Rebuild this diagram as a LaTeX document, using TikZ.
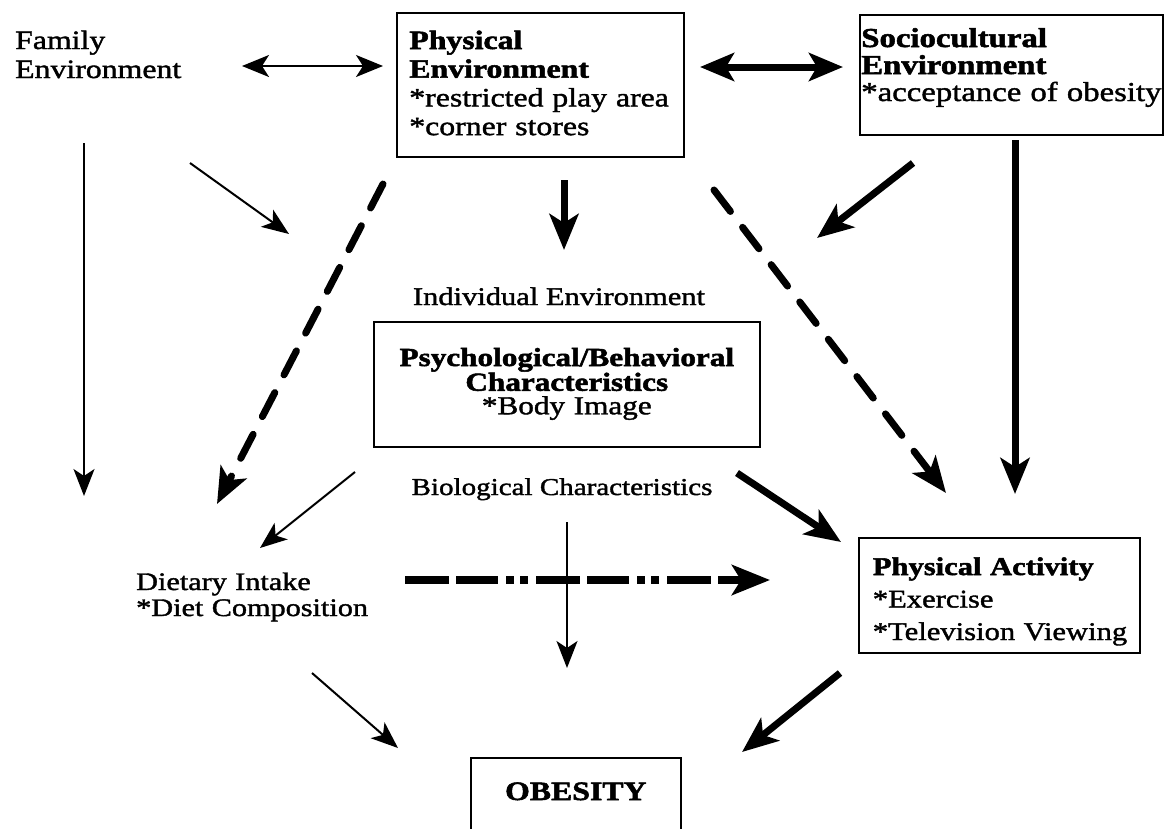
\documentclass[tikz,border=0pt]{standalone}
\usepackage{fontspec}
\setmainfont{Liberation Serif}[FakeStretch=1.2, UprightFeatures={FakeBold=1.5}, BoldFeatures={FakeBold=2}]
\usetikzlibrary{arrows.meta}
\newcommand\fsz[2]{\fontsize{#1}{#2}\selectfont}
\begin{document}
\begin{tikzpicture}[x=1pt,y=-1pt,
  box/.style={draw, line width=1.6pt, inner ysep=0pt, align=left},
  freetext/.style={inner sep=0pt, align=left},
  thinarrow/.style={line width=2pt, -{Stealth[length=27pt,width=21pt,inset=7pt]}},
  thinboth/.style={line width=2pt, {Stealth[length=27pt,width=22pt,inset=7pt]}-{Stealth[length=27pt,width=22pt,inset=7pt]}},
  thickarrow/.style={line width=7pt, -{Stealth[length=36pt,width=29pt,inset=9pt]}},
  thickboth/.style={line width=7pt, {Stealth[length=34pt,width=28pt,inset=8pt]}-{Stealth[length=34pt,width=28pt,inset=8pt]}},
  dasharrow/.style={thickarrow, dash pattern=on 27pt off 20pt, line cap=round},
  dashdotarrow/.style={line width=8pt, -{Stealth[length=38pt,width=30pt,inset=9pt]},
     dash pattern=on 44pt off 7pt on 42pt off 8pt on 8pt off 6pt on 8pt off 8pt}
]
\useasboundingbox (0,0) rectangle (1164,828);

% ---------- nodes ----------
\node[freetext, anchor=base west, text width=220pt, font=\fsz{26.5}{29}] (fam) at (15,49)
  {Family\\Environment};

\node[box, anchor=base west, text width=262pt, inner xsep=12.5pt, text height=36pt, text depth=108pt,
  font=\fsz{26.5}{28.7}] (phys) at (396,49)
  {\textbf{Physical}\\\textbf{Environment}\\\mbox{*restricted play area}\\\mbox{*corner stores}};

\node[box, anchor=base west, text width=300pt, inner xsep=1.5pt, text height=32pt, text depth=88pt,
  font=\fsz{27.3}{27}] (soc) at (859,47)
  {\textbf{Sociocultural}\\\textbf{Environment}\\\mbox{*acceptance of obesity}};

\node[freetext, anchor=base, font=\fsz{25.4}{28}] (indiv) at (559,305) {Individual Environment};

\node[box, align=center, anchor=base west, text width=386pt, inner xsep=0pt, text height=44pt, text depth=81pt,
  font=\fsz{26}{23.5}] (psych) at (373,366)
  {\textbf{\mbox{Psychological/Behavioral}}\\\textbf{Characteristics}\\\mbox{*Body Image}};

\node[freetext, anchor=base, font=\fsz{24.2}{28}] (bio) at (562,495) {Biological Characteristics};

\node[freetext, anchor=base west, text width=260pt, font=\fsz{25.2}{26}] (diet) at (136,590)
  {\mbox{Dietary Intake}\\\mbox{*Diet Composition}};

\node[box, anchor=base west, text width=253pt, inner xsep=14pt, text height=37pt, text depth=78pt,
  font=\fsz{25.5}{32.5}] (pa) at (858,575)
  {\textbf{\mbox{Physical Activity}}\\\mbox{*Exercise}\\\mbox{*Television Viewing}};

\node[box, align=center, anchor=base west, text width=210pt, inner xsep=0pt, text height=42pt, text depth=40pt,
  font=\fsz{26.5}{28}] (obes) at (470,800) {\textbf{OBESITY}};

% ---------- connector end points ----------
\coordinate (famR) at (242,66);   \coordinate (physL) at (383,66);
\coordinate (physR) at (700,67);  \coordinate (socL) at (843,67);
\coordinate (famS) at (84,143);   \coordinate (famE) at (84,496);
\coordinate (famD) at (190,163);  \coordinate (famDE) at (289,234);
\coordinate (physDL) at (383,184); \coordinate (dietT) at (217,504);
\coordinate (physS) at (564,180); \coordinate (indivN) at (564,250);
\coordinate (physDR) at (714,190); \coordinate (paT) at (946,493);
\coordinate (socD) at (913,163);  \coordinate (socDE) at (817,238);
\coordinate (socS) at (1015,140); \coordinate (paN) at (1015,494);
\coordinate (bioL) at (355,472);  \coordinate (dietN) at (260,548);
\coordinate (bioR) at (737,473);  \coordinate (paW) at (841,542);
\coordinate (dietR) at (405,580); \coordinate (paL) at (770,580);
\coordinate (bioS) at (567,522);  \coordinate (bioE) at (567,668);
\coordinate (dietS) at (312,673); \coordinate (obesL) at (398,748);
\coordinate (paS) at (840,673);   \coordinate (obesR) at (742,752);

% ---------- connectors ----------
\draw[thinboth] (famR) -- (physL);
\draw[thickboth] (physR) -- (socL);
\draw[thinarrow] (famS) -- (famE);
\draw[thinarrow] (famD) -- (famDE);
\draw[dasharrow] (physDL) -- (dietT);
\draw[thickarrow] (physS) -- (indivN);
\draw[dasharrow] (physDR) -- (paT);
\draw[thickarrow] (socD) -- (socDE);
\draw[thickarrow] (socS) -- (paN);
\draw[thinarrow] (bioL) -- (dietN);
\draw[thickarrow] (bioR) -- (paW);
\draw[dashdotarrow] (dietR) -- (paL);
\draw[thinarrow] (bioS) -- (bioE);
\draw[thinarrow] (dietS) -- (obesL);
\draw[thickarrow] (paS) -- (obesR);
\end{tikzpicture}
\end{document}
